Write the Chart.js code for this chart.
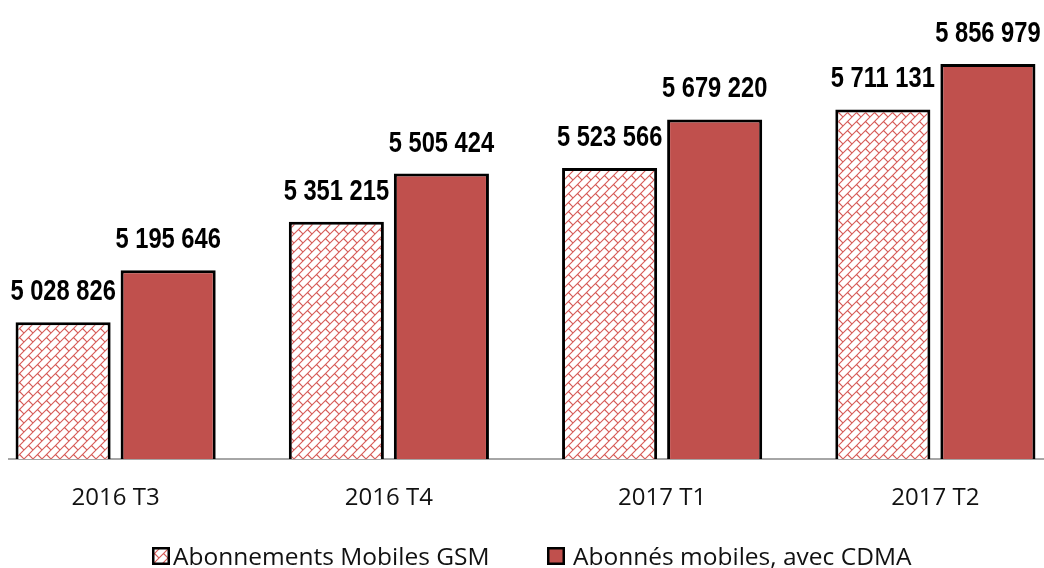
<!DOCTYPE html>
<html>
<head>
<meta charset="utf-8">
<script src="https://cdn.jsdelivr.net/npm/chart.js@4/dist/chart.umd.min.js"></script>
<style>
  html, body { margin: 0; padding: 0; background: #fff; overflow: hidden; width: 1044px; height: 568px; }
  #wrap { position: absolute; left: -21px; top: 0; width: 1093px; height: 568px; }
</style>
</head>
<body>
<div id="wrap"><canvas id="c"></canvas></div>
<script>
const categories = ['2016 T3', '2016 T4', '2017 T1', '2017 T2'];
const gsmValues = [5028826, 5351215, 5523566, 5711131];
const cdmaValues = [5195646, 5505424, 5679220, 5856979];
const seriesNames = ['Abonnements Mobiles GSM', 'Abonnés mobiles, avec CDMA'];

const OFFSET_X = 21;
const fmt = n => n.toString().replace(/\B(?=(\d{3})+(?!\d))/g, ' ');

function makeBrickPattern() {
  const s = 9;
  const t = document.createElement('canvas');
  t.width = s; t.height = s;
  const g = t.getContext('2d');
  g.fillStyle = '#ffffff';
  g.fillRect(0, 0, s, s);
  g.strokeStyle = '#d65a57';
  g.lineWidth = 1.1;
  g.beginPath();
  g.moveTo(-1, s + 1); g.lineTo(s + 1, -1);
  g.moveTo(-2, 2); g.lineTo(2, -2);
  g.moveTo(s - 2, s + 2); g.lineTo(s + 2, s - 2);
  g.moveTo(s / 2, s / 2); g.lineTo(s, s);
  g.moveTo(-s / 2, s / 2); g.lineTo(0, s);
  g.stroke();
  return g.createPattern(t, 'repeat');
}
const brick = makeBrickPattern();

const baselinePlugin = {
  id: 'baseline',
  beforeDatasetsDraw(chart) {
    const ctx = chart.ctx;
    const y = chart.scales.y.getPixelForValue(chart.scales.y.min);
    ctx.save();
    ctx.strokeStyle = '#a6a6a6';
    ctx.lineWidth = 2;
    ctx.beginPath();
    ctx.moveTo(8 + OFFSET_X, y);
    ctx.lineTo(chart.width, y);
    ctx.stroke();
    ctx.restore();
  }
};

const labelPlugin = {
  id: 'valueLabels',
  afterDatasetsDraw(chart) {
    const ctx = chart.ctx;
    chart.data.datasets.forEach((ds, i) => {
      chart.getDatasetMeta(i).data.forEach((bar, j) => {
        ctx.save();
        ctx.translate(bar.x, bar.y - 22);
        ctx.scale(0.79, 1);
        ctx.font = 'bold 30px "Liberation Sans", Arial, sans-serif';
        ctx.fillStyle = '#000';
        ctx.textAlign = 'center';
        ctx.textBaseline = 'alphabetic';
        ctx.fillText(fmt(ds.data[j]), 0, 0);
        ctx.restore();
      });
    });
  }
};

const legendPlugin = {
  id: 'customLegend',
  afterDraw(chart) {
    const ctx = chart.ctx;
    const items = [
      { box: 152, text: 173, fill: brick, label: seriesNames[0] },
      { box: 547, text: 573, fill: '#c0504d', label: seriesNames[1] }
    ];
    ctx.save();
    items.forEach(it => {
      const bx = it.box + OFFSET_X;
      ctx.fillStyle = it.fill;
      ctx.fillRect(bx, 547, 18, 18);
      ctx.strokeStyle = '#000';
      ctx.lineWidth = 2.5;
      ctx.strokeRect(bx + 1.25, 548.25, 15.5, 15.5);
      ctx.fillStyle = '#111';
      ctx.font = '24.5px "Open Sans", sans-serif';
      ctx.textAlign = 'left';
      ctx.textBaseline = 'alphabetic';
      ctx.fillText(it.label, it.text + OFFSET_X, 565);
    });
    ctx.restore();
  }
};

new Chart(document.getElementById('c'), {
  type: 'bar',
  data: {
    labels: categories,
    datasets: [
      {
        label: seriesNames[0],
        data: gsmValues,
        backgroundColor: brick,
        borderColor: '#000',
        borderWidth: 3,
        borderSkipped: false,
        barPercentage: 0.905,
        categoryPercentage: 0.769
      },
      {
        label: seriesNames[1],
        data: cdmaValues,
        backgroundColor: '#c0504d',
        borderColor: '#000',
        borderWidth: 3,
        borderSkipped: false,
        barPercentage: 0.905,
        categoryPercentage: 0.769
      }
    ]
  },
  options: {
    responsive: true,
    maintainAspectRatio: false,
    animation: false,
    layout: { padding: 0 },
    plugins: {
      legend: { display: false },
      tooltip: { enabled: false }
    },
    scales: {
      x: {
        grid: { display: false, drawTicks: false },
        border: { display: false },
        ticks: {
          color: '#111',
          font: { family: '"Open Sans", sans-serif', size: 24 },
          padding: 25,
          maxRotation: 0
        },
        afterFit(s) { s.height = 109; }
      },
      y: {
        display: false,
        min: 4590000,
        max: 6062240
      }
    }
  },
  plugins: [baselinePlugin, labelPlugin, legendPlugin]
});
</script>
</body>
</html>
